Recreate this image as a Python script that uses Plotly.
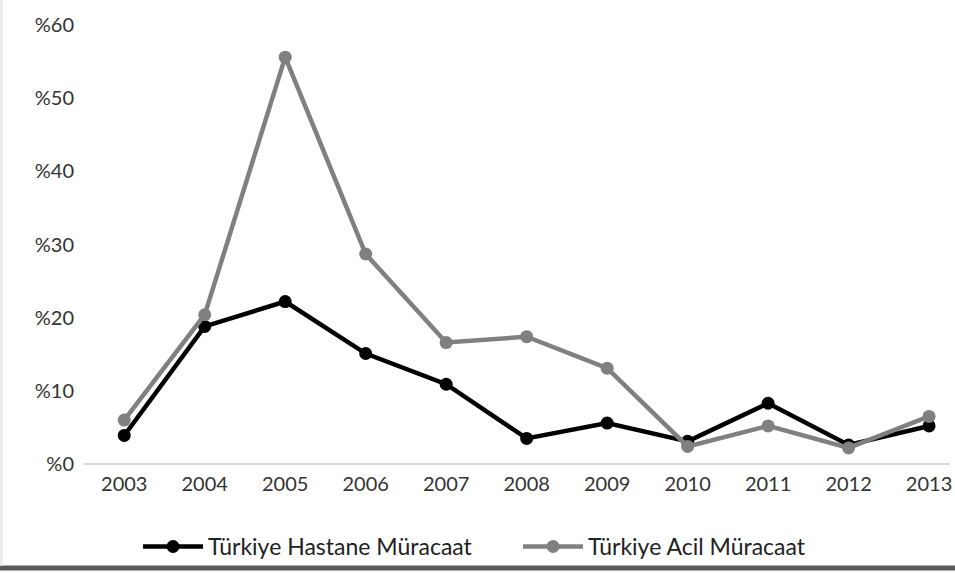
import plotly.graph_objects as go

years = ["2003", "2004", "2005", "2006", "2007", "2008", "2009", "2010", "2011", "2012", "2013"]
hastane = [3.9, 18.8, 22.2, 15.1, 10.9, 3.5, 5.6, 3.1, 8.3, 2.6, 5.2]
acil = [6.0, 20.4, 55.6, 28.7, 16.6, 17.4, 13.1, 2.4, 5.2, 2.2, 6.5]
y_ticks = [0, 10, 20, 30, 40, 50, 60]
y_labels = ["%0", "%10", "%20", "%30", "%40", "%50", "%60"]

fig = go.Figure()
fig.add_trace(go.Scatter(
    x=years, y=hastane, name="Türkiye Hastane Müracaat", mode="lines+markers",
    line=dict(color="#000000", width=4.5), marker=dict(color="#000000", size=13)))
fig.add_trace(go.Scatter(
    x=years, y=acil, name="Türkiye Acil Müracaat", mode="lines+markers",
    line=dict(color="#808080", width=4.5), marker=dict(color="#808080", size=13)))

fam = "Lato, 'Open Sans', sans-serif"

fig.update_layout(
    width=955, height=573,
    margin=dict(l=84, r=5, t=25, b=107),
    paper_bgcolor="white", plot_bgcolor="white",
    font=dict(family=fam, size=20, color="#333333"),
    showlegend=True,
    legend=dict(orientation="h", x=0.0624, xanchor="left", y=-0.188, yanchor="middle",
                bgcolor="rgba(0,0,0,0)",
                font=dict(family=fam, size=23, color="#222222"),
                itemwidth=60, traceorder="normal", entrywidth=305),
    xaxis=dict(type="category", range=[-0.5, 10.26], showgrid=False, showline=False,
               zeroline=False, ticks="", automargin=False, ticklabeloverflow="allow",
               ticklabelstandoff=6,
               tickfont=dict(family=fam, size=20, color="#333333")),
    yaxis=dict(range=[0, 60], tickvals=y_ticks, ticktext=y_labels, showgrid=False,
               zeroline=True, zerolinecolor="#d9d9d9", zerolinewidth=2,
               showline=False, ticks="", ticklabelstandoff=9, automargin=False,
               tickfont=dict(family=fam, size=20, color="#333333")),
    shapes=[
        dict(type="rect", xref="paper", yref="paper", x0=-0.1, x1=1.01,
             y0=-107 / 441, y1=-102 / 441,
             fillcolor="#5a5a5a", line=dict(width=0), layer="above"),
        dict(type="rect", xref="paper", yref="paper", x0=-84 / 866, x1=-81 / 866,
             y0=-102 / 441, y1=1 + 25 / 441,
             fillcolor="#ececec", line=dict(width=0), layer="above"),
    ],
)

fig.write_html("out.html", config={"displayModeBar": False})
with open("out.html", encoding="utf-8") as f:
    html = f.read()
html = html.replace("<body>", '<body style="margin:0;overflow:hidden">', 1)
with open("out.html", "w", encoding="utf-8") as f:
    f.write(html)
